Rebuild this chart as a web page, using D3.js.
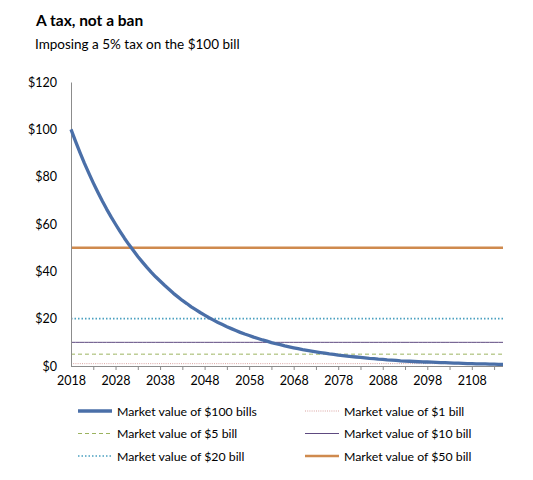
<!DOCTYPE html>
<html lang="en">
<head>
<meta charset="utf-8">
<title>A tax, not a ban</title>
<script src="https://d3js.org/d3.v7.min.js"></script>
<style>
  body { margin: 0; background: #fff; }
  #chart text { font-family: Lato, "Open Sans", sans-serif; fill: #000; }
  .axis path, .axis line { stroke: #8c8c8c; }
</style>
</head>
<body>
<div id="chart"></div>
<script>
"use strict"

// years 2018..2115 (category axis)
var anos = d3.range(2018, 2116);

// market value of a $100 bill
var valor100 = [100, 95, 90.3, 85.7, 81.5, 77.4, 73.5, 69.8, 66.3, 63, 59.9, 56.9, 54, 51.3, 48.8,
  46.3, 44, 41.8, 39.7, 37.7, 35.9, 34.1, 32.4, 30.7, 29.2, 27.7, 26.4, 25, 23.8, 22.6,
  21.5, 20.4, 19.4, 18.4, 17.5, 16.6, 15.8, 15, 14.2, 13.5, 12.9, 12.2, 11.6, 11, 10.5,
  9.9, 9.4, 9, 8.5, 8.1, 7.7, 7.3, 6.9, 6.6, 6.3, 6, 5.7, 5.4, 5.1, 4.9,
  4.6, 4.4, 4.2, 4, 3.8, 3.6, 3.4, 3.2, 3.1, 2.9, 2.8, 2.6, 2.5, 2.4, 2.2,
  2.1, 2, 1.9, 1.8, 1.7, 1.7, 1.6, 1.5, 1.4, 1.4, 1.3, 1.2, 1.2, 1.1, 1,
  1, 0.9, 0.9, 0.9, 0.8, 0.8, 0.7, 0.7];

// the smaller bills keep their face value
var cedulas = [1, 5, 10, 20, 50];
var nomesCedulas = ["Market value of $1 bill", "Market value of $5 bill", "Market value of $10 bill",
  "Market value of $20 bill", "Market value of $50 bill"];

var ticksY = [0, 20, 40, 60, 80, 100, 120];
var ticksX = [2018, 2023, 2028, 2033, 2038, 2043, 2048, 2053, 2058, 2063, 2068, 2073, 2078,
  2083, 2088, 2093, 2098, 2103, 2108, 2113];
var rotulosX = [2018, 2028, 2038, 2048, 2058, 2068, 2078, 2088, 2098, 2108];

var estilos = {
  v100: { cor: "#4a6fa8", larg: 3.3, traco: null },
  1:  { cor: "#d9a3a1", larg: 1, traco: "1,1.2" },
  5:  { cor: "#9bb35f", larg: 1, traco: "4,3" },
  10: { cor: "#5e4a80", larg: 1, traco: null },
  20: { cor: "#4aa0c0", larg: 1.6, traco: "1.5,2" },
  50: { cor: "#cf8a4e", larg: 2.5, traco: null }
};

var larguraSVG = 533, alturaSVG = 480;
var svg = d3.select("#chart").append("svg")
  .attr("width", larguraSVG).attr("height", alturaSVG);

svg.append("text").attr("x", 36).attr("y", 26)
  .style("font-size", "15.5px").style("font-weight", "bold")
  .text("A tax, not a ban");
svg.append("text").attr("x", 35).attr("y", 49)
  .style("font-size", "13.5px")
  .text("Imposing a 5% tax on the $100 bill");

var x = d3.scaleLinear().domain([2018, 2115]).range([71, 503]);
var y = d3.scaleLinear().domain([0, 120]).range([366, 82]);

// horizontal bills
cedulas.forEach(function(c) {
  var e = estilos[c];
  svg.append("path")
    .datum(anos)
    .attr("fill", "none")
    .attr("stroke", e.cor)
    .attr("stroke-width", e.larg)
    .attr("stroke-dasharray", e.traco)
    .attr("d", d3.line().x(d => x(d)).y(() => y(c)));
});

// eixo y
var eixoY = svg.append("g").attr("class", "axis")
  .attr("transform", "translate(71,0)")
  .call(d3.axisLeft(y).tickValues(ticksY).tickSize(0).tickPadding(14)
    .tickFormat(d => "$" + d));
eixoY.selectAll("text").style("font-size", "12.5px");

// eixo x
var eixoX = svg.append("g").attr("class", "axis")
  .attr("transform", "translate(0,366)")
  .call(d3.axisBottom(x).tickValues(ticksX).tickSize(4).tickSizeOuter(0).tickPadding(6)
    .tickFormat(d => rotulosX.indexOf(d) >= 0 ? d : ""));
eixoX.select(".domain").attr("d", "M71,0.5H503");
eixoX.selectAll("text").style("font-size", "12.5px");
eixoX.selectAll(".tick").filter(d => d === 2018).select("line").remove();

// a curva do $100
svg.append("path")
  .datum(valor100)
  .attr("fill", "none")
  .attr("stroke", estilos.v100.cor)
  .attr("stroke-width", estilos.v100.larg)
  .attr("stroke-linejoin", "round")
  .attr("d", d3.line().x((d, i) => x(anos[i])).y(d => y(d)));

// legenda
var itens = [
  { chave: "v100", nome: "Market value of $100 bills" },
  { chave: 1, nome: nomesCedulas[0] },
  { chave: 5, nome: nomesCedulas[1] },
  { chave: 10, nome: nomesCedulas[2] },
  { chave: 20, nome: nomesCedulas[3] },
  { chave: 50, nome: nomesCedulas[4] }
];
var legenda = svg.append("g").selectAll("g").data(itens).enter().append("g")
  .attr("transform", (d, i) => "translate(" + (i % 2 === 0 ? 78 : 305) + "," + (411 + Math.floor(i / 2) * 22.5) + ")");
legenda.append("line")
  .attr("x1", 0).attr("x2", 34).attr("y1", 0).attr("y2", 0)
  .attr("stroke", d => estilos[d.chave].cor)
  .attr("stroke-width", d => estilos[d.chave].larg)
  .attr("stroke-dasharray", d => estilos[d.chave].traco);
legenda.append("text")
  .attr("x", 39).attr("y", 4.5)
  .style("font-size", "12.3px")
  .text(d => d.nome);
</script>
</body>
</html>
